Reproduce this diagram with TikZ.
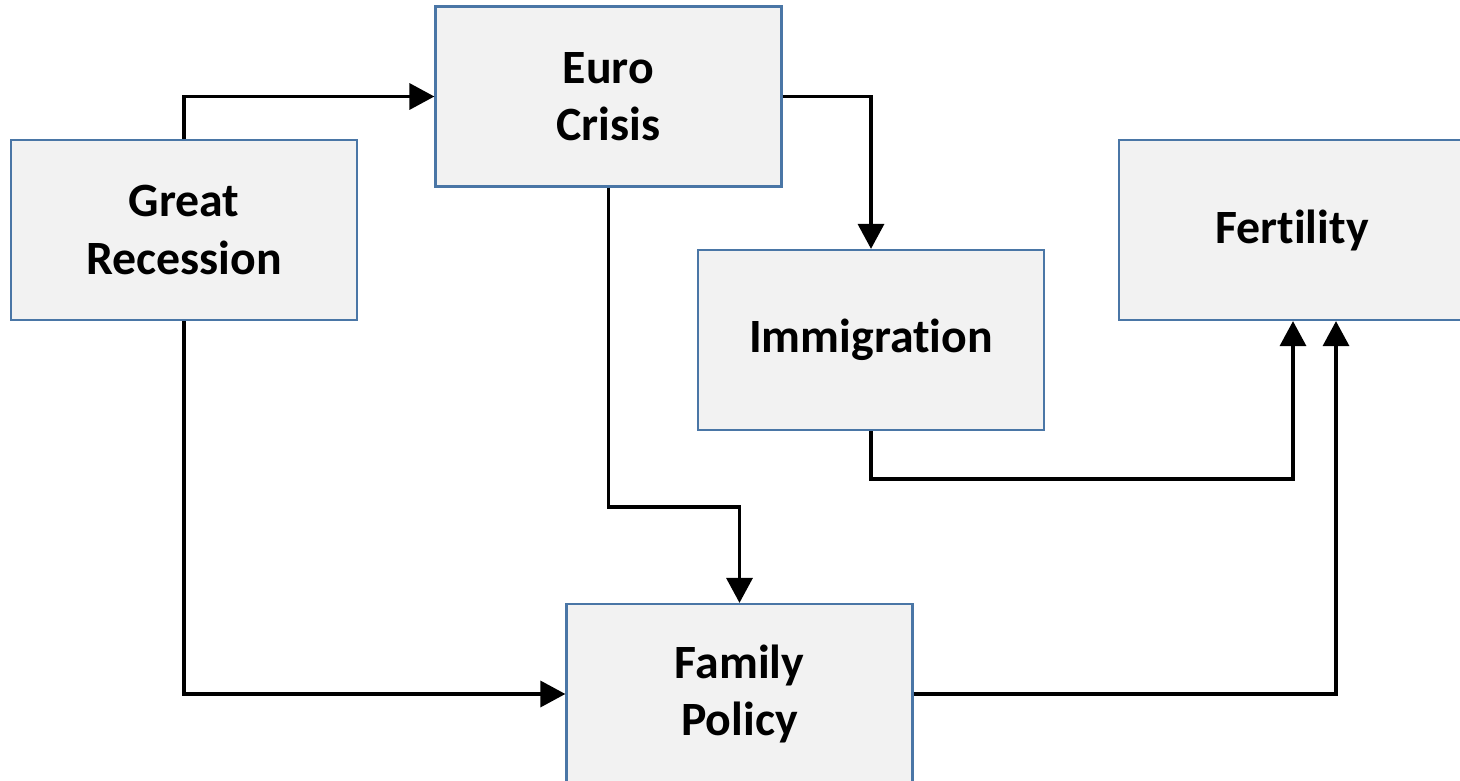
\documentclass[tikz,border=0pt]{standalone}
\usepackage{fontspec}
\setmainfont{Carlito}[Ligatures={NoCommon, NoRare, NoDiscretionary}]
\usepackage{xcolor}
\usepackage{tikz}
\usetikzlibrary{arrows.meta, positioning, calc}

\definecolor{boxfill}{HTML}{F2F2F2}
\definecolor{boxline}{HTML}{4A76A6}

\begin{document}
\begin{tikzpicture}[
  arrow/.style={-{Triangle[length=0.5cm, width=0.52cm]}, line width=0.07cm},
  block/.style={draw=boxline, fill=boxfill, line width=0.045cm, rectangle,
    minimum width=6.92cm, minimum height=3.6cm, align=center,
    font=\bfseries\fontsize{27.2}{32.8}\selectfont}
]
  \useasboundingbox (0,0) rectangle (29.2,-15.62);

  % Boxes
  \node (gr) [block] at (3.68, -4.6) {Great\\Recession};
  \node (ec) [block] at (12.17, -1.93) {Euro\\Crisis};
  \node (imm) [block] at (17.42, -6.8) {Immigration};
  \node (fert) [block] at (25.84, -4.6) {Fertility};
  \node (fp) [block] at (14.79, -13.88) {Family\\Policy};

  % Arrows
  \draw[arrow] (gr.north) |- (ec.west);
  \draw[arrow] (ec.east) -| (imm.north);
  \draw[arrow] (ec.south) -- ++(0,-6.39) -| (fp.north);
  \draw[arrow] (gr.south) |- (fp.west);
  \draw[arrow] (imm.south) -- ++(0,-0.96) -| ([xshift=0.02cm]fert.south);
  \draw[arrow] (fp.east) -| ([xshift=0.88cm]fert.south);

\end{tikzpicture}
\end{document}
